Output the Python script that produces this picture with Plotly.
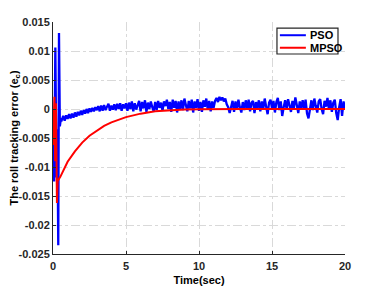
import numpy as np
import plotly.graph_objects as go

# ---- data ----
series_names = ["PSO", "MPSO"]
series_colors = ["#0000ff", "#ff0000"]

# PSO: initial transient (time, error)
pso_t0 = [0.0, 0.08, 0.16, 0.24, 0.30, 0.36, 0.41, 0.47, 0.53]
pso_e0 = [-0.0048, -0.0125, 0.0106, -0.0118, -0.0035, -0.0235, 0.0131, -0.0030, -0.0018]

pso_tail = [
    -0.0019, -0.0012, -0.0020, -0.0011, -0.0017, -0.0009, -0.0016, -0.0008, -0.0015, -0.0006,
    -0.0013, -0.0005, -0.0011, -0.0003, -0.0010, -0.0002, -0.0008, 0.0000, -0.0007, 0.0001,
    -0.0005, 0.0002, -0.0004, 0.0003, -0.0002,
    0.0005, -0.0004, 0.0006, -0.0003, 0.0007, -0.0002, 0.0004, 0.0009, -0.0003, 0.0006,
    -0.0001, 0.0008, -0.0002, 0.0009, 0.0000, 0.0010, -0.0003, 0.0008, 0.0001, 0.0010,
    -0.0003, 0.0011, 0.0000, 0.0013, -0.0004, 0.0010, -0.0001, 0.0009, 0.0014, -0.0004,
    0.0012, 0.0001, 0.0015, -0.0005, 0.0011, 0.0000, 0.0013, 0.0003, -0.0004, 0.0012,
    -0.0002, 0.0014, 0.0002, 0.0011, -0.0003, 0.0013, 0.0005, 0.0016, 0.0000, 0.0012,
    -0.0005, 0.0016, 0.0002, 0.0014, -0.0006, 0.0013, -0.0001, 0.0015, -0.0002, 0.0018,
    0.0004, -0.0004, 0.0014, 0.0001, 0.0016, -0.0006, 0.0013, 0.0002, 0.0017, -0.0003,
    0.0012, -0.0005, 0.0015, 0.0004, 0.0018, -0.0001, 0.0014, -0.0004, 0.0013, 0.0002,
    0.0014, 0.0019, 0.0012, 0.0021, 0.0015, 0.0020, 0.0013, 0.0018, 0.0008, 0.0003,
    -0.0007, 0.0005, 0.0014, -0.0005, 0.0013, -0.0001, 0.0016, 0.0003, -0.0006, 0.0012,
    -0.0002, 0.0015, 0.0001, 0.0016, -0.0004, 0.0011, 0.0014, -0.0007, 0.0012, 0.0002,
    0.0015, -0.0004, 0.0013, 0.0000, 0.0018, 0.0004, -0.0009, 0.0011, 0.0016, 0.0001,
    0.0014, -0.0006, 0.0012, 0.0019, -0.0002, 0.0013, -0.0012, 0.0003, 0.0015, 0.0000,
    0.0017, 0.0006, -0.0005, 0.0014, 0.0002, 0.0020, 0.0007, -0.0007, 0.0013, 0.0001,
    0.0015, -0.0001, 0.0016, -0.0008, -0.0016, 0.0003, 0.0015, -0.0002, 0.0018, 0.0005,
    -0.0006, 0.0013, 0.0017, 0.0000, -0.0009, 0.0014, 0.0004, 0.0019, -0.0001, 0.0015,
    -0.0005, 0.0011, 0.0016, -0.0007, -0.0019, 0.0003, 0.0017, -0.0012, 0.0013, 0.0001,
]
pso_tail_t = list(np.round(np.arange(0.6, 20.05, 0.1), 2))

# MPSO (time, error)
mpso_t = [0.0, 0.10, 0.15, 0.20, 0.27, 0.32, 0.5, 1.0, 1.5, 2.0, 2.5, 3.0, 3.5, 4.0, 4.5,
          5.0, 5.5, 6.0, 7.0, 8.0, 9.0, 10.0, 11.0, 13.0, 20.0]
mpso_e = [-0.0062, 0.0021, -0.0090, 0.0010, -0.0162, -0.0124, -0.0117, -0.0091, -0.0073,
          -0.0058, -0.0046, -0.0037, -0.0029, -0.0023, -0.0018, -0.0014, -0.0011, -0.0008,
          -0.0004, -0.0002, -0.0001, -0.00005, 0.0, 0.0, 0.0]

x_ticks = [0, 5, 10, 15, 20]
y_ticks = [-0.025, -0.02, -0.015, -0.01, -0.005, 0, 0.005, 0.01, 0.015]
y_tick_labels = ["-0.025", "-0.02", "-0.015", "-0.01", "-0.005", "0", "0.005", "0.01", "0.015"]

pso_t = pso_t0 + pso_tail_t
pso_e = pso_e0 + pso_tail

FONT = "Liberation Sans, Arial, sans-serif"

fig = go.Figure()
fig.add_trace(go.Scatter(x=pso_t, y=pso_e, mode="lines", name=series_names[0],
                         line=dict(color=series_colors[0], width=2.3)))
fig.add_trace(go.Scatter(x=mpso_t, y=mpso_e, mode="lines", name=series_names[1],
                         line=dict(color=series_colors[1], width=2)))

# The page body has an 8px margin, so the figure is sized/offset to land the
# plot area where the reference has it.
fig.update_layout(
    width=374, height=278,
    margin=dict(l=45, r=37, t=14, b=32),
    paper_bgcolor="white", plot_bgcolor="white",
    font=dict(family=FONT, size=11, color="#262626"),
    showlegend=False,
)

# compact MATLAB-style legend box (paper coords of the plot area)
fig.add_shape(type="rect", xref="paper", yref="paper",
              x0=0.767, x1=0.976, y0=0.862, y1=0.974,
              line=dict(color="#262626", width=1.2), fillcolor="white", layer="above")
leg_y = [0.943, 0.889]
for name, col, yy in zip(series_names, series_colors, leg_y):
    fig.add_shape(type="line", xref="paper", yref="paper",
                  x0=0.777, x1=0.866, y0=yy, y1=yy,
                  line=dict(color=col, width=2), layer="above")
    fig.add_annotation(xref="paper", yref="paper", x=0.872, y=yy, text=name,
                       showarrow=False, xanchor="left", yanchor="middle",
                       font=dict(family=FONT, size=11, color="black", weight="bold"))

fig.update_xaxes(
    range=[0, 20], tickvals=x_ticks, ticks="inside", ticklen=3, tickcolor="#262626",
    showline=True, linecolor="#262626", linewidth=1,
    showgrid=True, gridcolor="#d9d9d9", griddash="dashdot", gridwidth=1,
    zeroline=False, ticklabelstandoff=2,
    tickfont=dict(family=FONT, size=11, color="#262626", weight="bold"),
    title=dict(text="Time(sec)", standoff=6,
               font=dict(family=FONT, size=11, color="black", weight="bold")),
    automargin=False,
)
fig.update_yaxes(
    range=[-0.025, 0.015], tickvals=y_ticks, ticktext=y_tick_labels,
    ticks="inside", ticklen=3, tickcolor="#262626",
    showline=True, linecolor="#262626", linewidth=1,
    showgrid=True, gridcolor="#d9d9d9", griddash="dashdot", gridwidth=1,
    zeroline=False,
    tickfont=dict(family=FONT, size=11, color="#262626", weight="bold"),
    title=dict(text="The roll tracking error (e<sub>c</sub>)", standoff=2,
               font=dict(family=FONT, size=11, color="black", weight="bold")),
    automargin=False,
)

fig.write_html("out.html")
